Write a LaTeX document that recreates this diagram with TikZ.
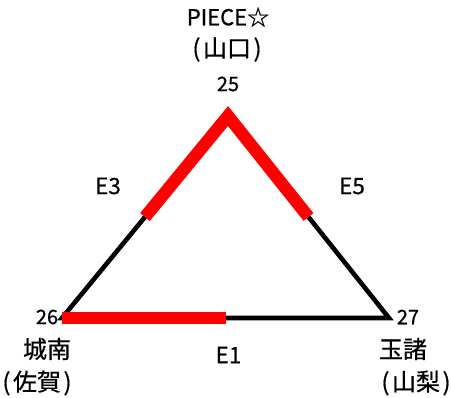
\documentclass[tikz,border=0pt]{standalone}
\usepackage{fontspec}
\setmainfont{Noto Sans CJK JP}[FakeBold=0.6]
\usetikzlibrary{calc}
\newcommand{\lp}{(\kern2.5pt}
\newcommand{\rp}{\kern2.5pt)}
\begin{document}
\begin{tikzpicture}[x=1pt,y=-1pt,
  lbl/.style={inner sep=0pt, font=\fontsize{22}{24}\selectfont},
  cjk/.style={inner sep=0pt, font=\fontsize{24}{26}\selectfont},
  num/.style={inner sep=0pt, font=\fontsize{20}{22}\selectfont},
  elbl/.style={inner sep=0pt, font=\fontsize{22.5}{24}\selectfont},
  blackedge/.style={line width=4.6pt, line join=miter, black},
  rededge/.style={line width=12.5pt, line join=miter, line cap=butt, red}]
\useasboundingbox (0,0) rectangle (451,398);
\coordinate (A) at (228,116);
\coordinate (B) at (62,318);
\coordinate (C) at (389,318);
\coordinate (AB) at ($(A)!0.5!(B)$);
\coordinate (AC) at ($(A)!0.5!(C)$);
\coordinate (BC) at ($(B)!0.5!(C)$);
\draw[blackedge] (A) -- (B) -- (C) -- cycle;
\draw[rededge] (AB) -- (A) -- (AC);
\draw[rededge] (B) -- (BC);
\node[lbl] (nA1) at (228,17) {PIECE☆};
\node[cjk] (nA2) at (227,49.5) {\lp 山口\rp};
\node[num] (nA3) at (228,84) {25};
\node[num] (nB1) at (47,317) {26};
\node[cjk] (nB2) at (47,349) {城南};
\node[cjk] (nB3) at (37,383) {\lp 佐賀\rp};
\node[num] (nC1) at (408,317) {27};
\node[cjk] (nC2) at (403,349) {玉諸};
\node[cjk] (nC3) at (416,383) {\lp 山梨\rp};
\node[elbl] (e3) at (108,186) {E3};
\node[elbl] (e5) at (352,186) {E5};
\node[elbl] (e1) at (228.5,355) {E1};
\end{tikzpicture}
\end{document}
